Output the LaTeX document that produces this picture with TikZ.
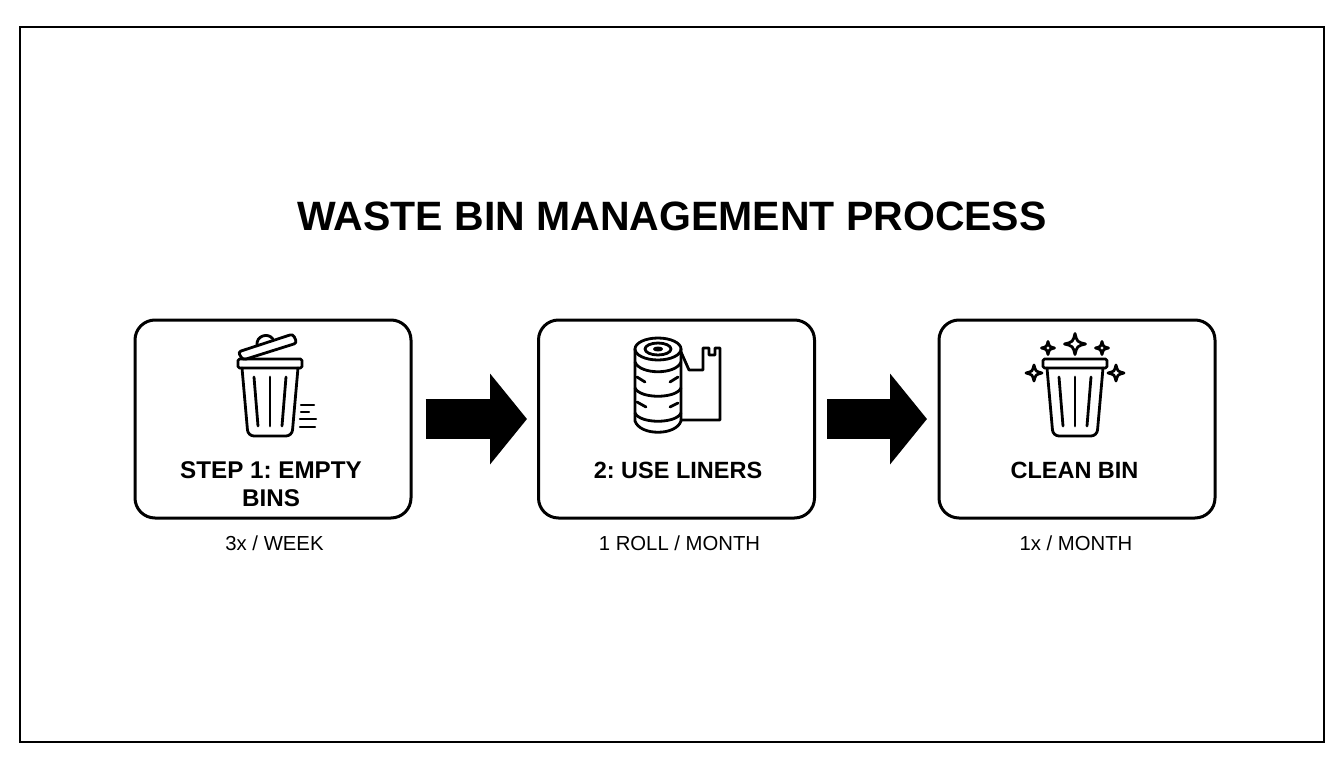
\documentclass[tikz,border=0pt]{standalone}
\usepackage{fontspec}
\setmainfont{Liberation Sans}
\usetikzlibrary{arrows.meta}
\tikzset{
  stepbox/.style={draw=black, line width=3pt, rounded corners=20pt, minimum width=276pt, minimum height=198pt},
  steplabel/.style={font=\fontsize{23.5}{28}\selectfont\bfseries\frenchspacing, align=center, inner sep=0pt},
  caption/.style={font=\fontsize{20.3}{24}\selectfont, inner sep=0pt},
  blockarrow/.style={line width=40pt, -{Triangle[length=37pt,width=89pt]}},
  icon/.style={line width=2.8pt, line join=round, line cap=round},
  pics/binbody/.style={code={
    \draw [icon, rounded corners=1.5pt] (-32,0) rectangle (32,9);
    \draw [icon, rounded corners=6pt] (-28,9) -- (-22,77) -- (22,77) -- (28,9);
    \draw [icon] (-16,18) -- (-12,67);
    \draw [icon] (0,18) -- (0,67);
    \draw [icon] (16,18) -- (12,67);
  }},
  pics/sparkle/.style={code={
    \draw [icon] (0,-#1) .. controls (.2*#1,-.2*#1) .. (#1,0)
      .. controls (.2*#1,.2*#1) .. (0,#1)
      .. controls (-.2*#1,.2*#1) .. (-#1,0)
      .. controls (-.2*#1,-.2*#1) .. cycle;
  }}
}
\begin{document}
\begin{tikzpicture}
  [x=1pt,y=-1pt]
  \useasboundingbox (0,0) rectangle (1344,768);
  \draw [line width=2.5pt] (20,27) rectangle (1324,742);

  \node [font=\fontsize{41}{50}\selectfont\bfseries, inner sep=0pt] (title) at (672,216) {WASTE BIN MANAGEMENT PROCESS};

  \node [stepbox] (stepA) at (273,419) {};
  \node [stepbox] (stepB) at (676.5,419) {};
  \node [stepbox] (stepC) at (1077,419) {};

  \node [steplabel, font=\fontsize{24.2}{28}\selectfont\bfseries\frenchspacing] (labelA) at (271,484) {STEP 1: EMPTY\\BINS};
  \node [steplabel] (labelB) at (678,470) {2: USE LINERS};
  \node [steplabel] (labelC) at (1074.5,470) {CLEAN BIN};

  \node [caption] (capA) at (274.5,543) {3x / WEEK};
  \node [caption] (capB) at (679.5,543) {1 ROLL / MONTH};
  \node [caption] (capC) at (1076,543) {1x / MONTH};

  \draw [blockarrow, shorten <=13pt, shorten >=10pt] (stepA) -- (stepB);
  \draw [blockarrow, shorten <=11pt, shorten >=10.5pt] (stepB) -- (stepC);

  % first icon
  \pic at (270,359) {binbody};
  \draw [icon, rounded corners=3pt] (238,352) -- (293,334) -- (297,343) -- (243,360) -- cycle;
  \draw [icon] (257,345) .. controls (256,336) and (268,332) .. (273,339);
  \draw [icon, line width=2.3pt] (301,405) -- (314,405);
  \draw [icon, line width=2.3pt] (301,412) -- (309,412);
  \draw [icon, line width=2.3pt] (300,419) -- (316,419);
  \draw [icon, line width=2.3pt] (300,427) -- (315,427);

  % second icon
  \draw [icon] (658,349) ellipse [x radius=23, y radius=11];
  \draw [icon] (658,349) ellipse [x radius=13, y radius=6];
  \draw [icon] (658,349) ellipse [x radius=3.5, y radius=1];
  \draw [icon] (635,349) -- (635,421) .. controls (640,436) and (676,436) .. (681,421) -- (681,349);
  \draw [icon] (635,362) .. controls (640,375) and (676,375) .. (681,362);
  \draw [icon] (635,388) .. controls (640,399) and (676,399) .. (681,388);
  \draw [icon] (635,413) .. controls (640,424) and (676,424) .. (681,413);
  \draw [icon] (637,377) -- (645,382);
  \draw [icon] (678,377) -- (670,382);
  \draw [icon] (637,402) -- (646,407);
  \draw [icon] (678,403) -- (670,407);
  \draw [icon] (681,352) -- (689,370) -- (703,370) -- (703,348) -- (709,348) -- (709,355)
    -- (715,355) -- (715,348) -- (720,348) -- (720,420) -- (681,420);

  % third icon
  \pic at (1075,359) {binbody};
  \pic at (1075,344) {sparkle=10.5};
  \pic at (1048,348) {sparkle=6.5};
  \pic at (1102,348) {sparkle=6.5};
  \pic at (1034,373) {sparkle=8};
  \pic at (1116,373) {sparkle=8};
\end{tikzpicture}
\end{document}
